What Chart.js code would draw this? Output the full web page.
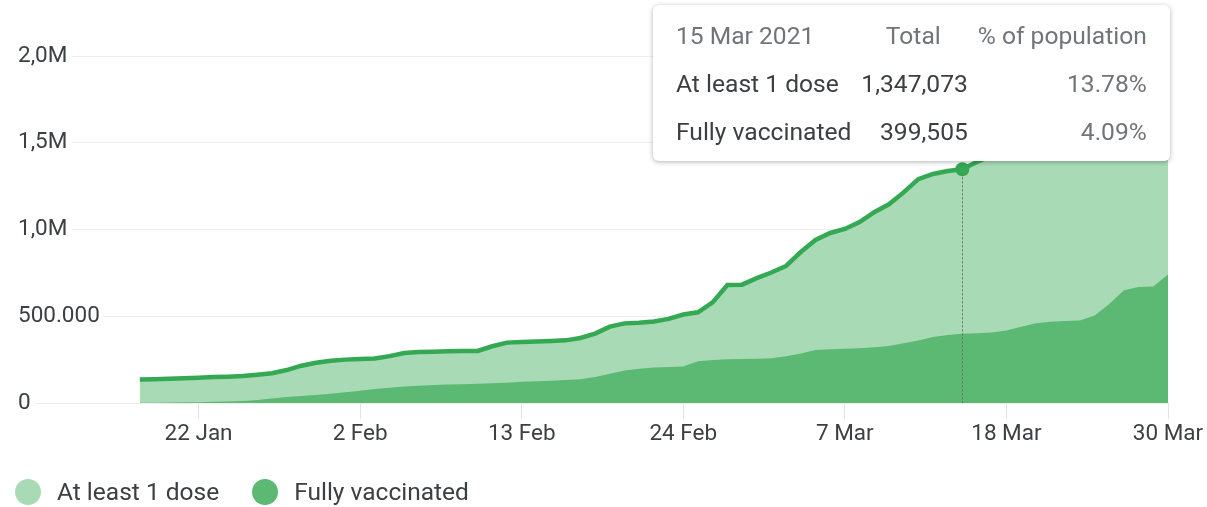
<!DOCTYPE html>
<html>
<head>
<meta charset="utf-8">
<title>Vaccinations</title>
<script src="https://cdn.jsdelivr.net/npm/chart.js@4"></script>
<style>
  html, body { margin: 0; background: #fff; font-family: Roboto, Arial, sans-serif; overflow: hidden; }
  #wrap { position: relative; width: 1207px; height: 507px; overflow: hidden; }
  #chart { display: block; }
  #tip {
    position: absolute; left: 0; top: 0; background: #fff; border-radius: 6px;
    box-shadow: 0 1px 5px rgba(0, 0, 0, 0.3);
    padding: 6px 23px; font-size: 24.6px; color: #3c4043;
  }
  #tip table { border-collapse: collapse; }
  #tip td { height: 48px; padding: 0; white-space: nowrap; }
  #tip .num { text-align: right; padding-left: 10px; }
  #tip .grey { color: #70757a; }
  #legend { position: absolute; left: 15px; top: 478px; display: flex; align-items: center; font-size: 24.5px; line-height: 28px; color: #3c4043; }
  #legend .item { display: flex; align-items: center; margin-right: 33px; }
  #legend .dot { width: 26px; height: 26px; border-radius: 50%; margin-right: 16px; }
</style>
</head>
<body>
<div id="wrap">
  <canvas id="chart"></canvas>
  <div id="tip"></div>
  <div id="legend"></div>
</div>
<script>
// day 0 = 18 Jan 2021
const tickDays = [4, 15, 26, 37, 48, 59, 70];
const tickLabels = ["22 Jan", "2 Feb", "13 Feb", "24 Feb", "7 Mar", "18 Mar", "30 Mar"];
const yTickValues = [0, 500000, 1000000, 1500000, 2000000];
const yTickLabels = ["0", "500.000", "1,0M", "1,5M", "2,0M"];

const atLeastOneDose = [
  135000, 137000, 140000, 143000, 146000, 150000, 152000, 155000, 163000, 172000,
  190000, 215000, 232000, 244000, 250000, 253000, 257000, 270000, 288000, 294000,
  296000, 298000, 299000, 300000, 327000, 348000, 351000, 354000, 357000, 361000,
  375000, 400000, 440000, 459000, 463000, 470000, 485000, 510000, 523000, 580000,
  680000, 682000, 720000, 752000, 790000, 870000, 940000, 980000, 1003000, 1043000,
  1100000, 1145000, 1214000, 1290000, 1320000, 1337000, 1347073, 1390000, 1425000, 1460000,
  1500000, 1540000, 1575000, 1610000, 1650000, 1690000, 1730000, 1770000, 1800000, 1830000,
  1860000
];
const fullyVaccinated = [
  1000, 2000, 3000, 4000, 5000, 7000, 9000, 12000, 18000, 26000,
  34000, 40000, 46000, 54000, 62000, 71000, 80000, 88000, 95000, 100000,
  104000, 106000, 108000, 111000, 114000, 117000, 122000, 125000, 128000, 132000,
  137000, 150000, 168000, 188000, 198000, 205000, 208000, 210000, 240000, 248000,
  252000, 254000, 255000, 258000, 270000, 285000, 305000, 310000, 312000, 316000,
  322000, 328000, 345000, 360000, 380000, 392000, 399505, 402000, 406000, 418000,
  440000, 460000, 468000, 472000, 475000, 505000, 570000, 650000, 668000, 672000,
  740000
];
const days = atLeastOneDose.map((v, i) => i);

const hoverDay = 56;
const hoverDate = "15 Mar 2021";
const population = 9775000;

const colors = { dose1: "#a8dab5", full: "#5bb974", line: "#34a853" };

Chart.defaults.font.family = "Roboto, Arial, sans-serif";

function pct(v) {
  return (v / population * 100).toFixed(2) + "%";
}

// tooltip table, filled before the chart is drawn
const tip = document.getElementById("tip");
tip.innerHTML =
  "<table>" +
  "<tr><td class='grey'>" + hoverDate + "</td><td class='num grey' style='padding-right:27px'>Total</td><td class='num grey'>% of population</td></tr>" +
  "<tr><td>At least 1 dose</td><td class='num'>" + atLeastOneDose[hoverDay].toLocaleString("en-US") + "</td><td class='num grey'>" + pct(atLeastOneDose[hoverDay]) + "</td></tr>" +
  "<tr><td>Fully vaccinated</td><td class='num'>" + fullyVaccinated[hoverDay].toLocaleString("en-US") + "</td><td class='num grey'>" + pct(fullyVaccinated[hoverDay]) + "</td></tr>" +
  "</table>";

const hoverPlugin = {
  id: "hover",
  afterDatasetsDraw(chart) {
    const ctx = chart.ctx;
    const pt = chart.getDatasetMeta(0).data[hoverDay];
    const y0 = chart.scales.y.getPixelForValue(0);
    ctx.save();
    ctx.strokeStyle = "#6b6b6b";
    ctx.lineWidth = 1;
    ctx.setLineDash([2, 2]);
    ctx.beginPath();
    ctx.moveTo(Math.round(pt.x) + 0.5, pt.y);
    ctx.lineTo(Math.round(pt.x) + 0.5, y0);
    ctx.stroke();
    ctx.setLineDash([]);
    ctx.fillStyle = colors.line;
    ctx.beginPath();
    ctx.arc(pt.x, pt.y, 7, 0, Math.PI * 2);
    ctx.fill();
    ctx.restore();
  },
  afterDraw(chart) {
    const pt = chart.getDatasetMeta(0).data[hoverDay];
    tip.style.left = (chart.chartArea.right + 2 - tip.offsetWidth) + "px";
    tip.style.top = (pt.y - 8 - tip.offsetHeight) + "px";
  }
};

const chart = new Chart(document.getElementById("chart"), {
  type: "line",
  data: {
    labels: days,
    datasets: [{
      label: "At least 1 dose",
      data: atLeastOneDose,
      borderColor: colors.line,
      backgroundColor: colors.dose1,
      borderWidth: 4.5,
      fill: "origin",
      pointRadius: 0,
      order: 1
    }, {
      label: "Fully vaccinated",
      data: fullyVaccinated,
      borderWidth: 0,
      borderColor: colors.full,
      backgroundColor: colors.full,
      fill: "origin",
      pointRadius: 0,
      order: 0
    }]
  },
  options: {
    responsive: true,
    maintainAspectRatio: false,
    animation: false,
    events: [],
    layout: { autoPadding: false, padding: { left: 12, right: 39, top: 56, bottom: 57 } },
    plugins: { legend: { display: false }, tooltip: { enabled: false } },
    scales: {
      x: {
        type: "linear",
        min: -8.43,
        max: 70,
        afterBuildTicks(scale) {
          scale.ticks = tickDays.map(v => ({ value: v }));
        },
        ticks: {
          autoSkip: false,
          maxRotation: 0,
          padding: 2,
          color: "#3c4043",
          font: { size: 22.5 },
          callback: (v) => tickLabels[tickDays.indexOf(v)]
        },
        grid: { drawOnChartArea: false, drawTicks: true, tickLength: 16, color: "#e3e3e3" },
        border: { display: false }
      },
      y: {
        min: 0,
        max: 2000000,
        afterBuildTicks(scale) {
          scale.ticks = yTickValues.map(v => ({ value: v }));
        },
        ticks: {
          mirror: true,
          padding: 2,
          color: "#3c4043",
          font: { size: 22.5 },
          showLabelBackdrop: true,
          backdropColor: "#fff",
          backdropPadding: { left: 3, right: 4, top: 0, bottom: 0 },
          callback: (v) => yTickLabels[yTickValues.indexOf(v)]
        },
        grid: { color: "#eeeeee", drawTicks: false },
        border: { display: false }
      }
    }
  },
  plugins: [hoverPlugin]
});

// legend
const legend = document.getElementById("legend");
chart.data.datasets.forEach(function (ds) {
  const item = document.createElement("div");
  item.className = "item";
  item.innerHTML = "<span class='dot' style='background:" + ds.backgroundColor + "'></span><span>" + ds.label + "</span>";
  legend.appendChild(item);
});
</script>
</body>
</html>
